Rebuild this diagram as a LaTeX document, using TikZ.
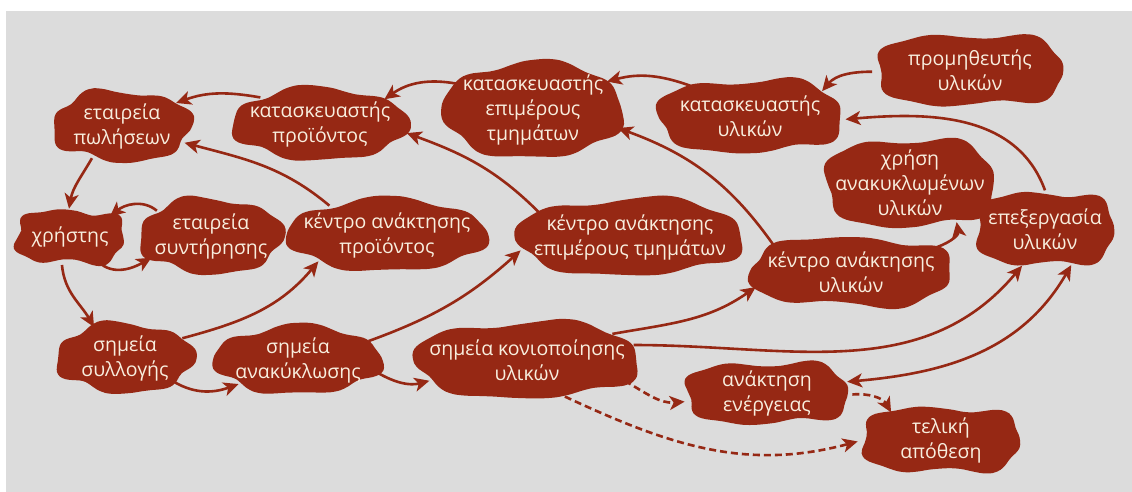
\documentclass[tikz,border=0pt]{standalone}
\usepackage{fontspec}
\setmainfont{Open Sans}
\usetikzlibrary{shapes.geometric,arrows.meta,backgrounds}
\definecolor{blobred}{RGB}{150,40,20}
\definecolor{panel}{RGB}{220,220,220}
\definecolor{cream}{RGB}{248,238,222}

\tikzset{
  >={Stealth[length=15pt,width=14pt,inset=4pt]},
  blob/.style={ellipse, inner xsep=-75pt, inner ysep=-50pt, text=cream,
    align=center, font=\fontsize{19.5}{25}\selectfont},
  conn/.style={draw=blobred, line width=2.6pt, ->},
  twoway/.style={draw=blobred, line width=2.6pt, <->},
  dashconn/.style={conn, dash pattern=on 7pt off 4pt},
}

% name, x, y, half width, half height, wobble phase, text
\newcommand\place[7]{%
  \node[blob, minimum width={2.08*#4}, minimum height={2.08*#5}] (#1) at (#2,#3) {#7};
  \begin{pgfonlayer}{background}
    \fill[blobred, shift={(#1.center)}]
      plot[smooth cycle, samples=48, domain=3:355.5, variable=\t]
      ({#4*sign(cos(\t))*abs(cos(\t))^0.8 + (3*sin(4*\t+#6)+2.5*sin(7*\t+1.7*#6))*cos(\t)},
       {#5*sign(sin(\t))*abs(sin(\t))^0.8 + (3*sin(4*\t+#6)+2.5*sin(7*\t+1.7*#6))*sin(\t)});
  \end{pgfonlayer}
}

\begin{document}
\begin{tikzpicture}[x=1pt,y=1pt]
  \useasboundingbox (0,0) rectangle (1132,492);
  \begin{pgfonlayer}{background}
    \fill[white] (0,0) rectangle (1132,492);
    \fill[panel] (6,0) rectangle (1132,481);
  \end{pgfonlayer}

  \place{sales}{122}{366}{68}{34}{20}{εταιρεία\\πωλήσεων}
  \place{prodmaker}{320}{368}{86}{34}{70}{κατασκευαστής\\προϊόντος}
  \place{partmaker}{533}{382}{88}{46}{130}{κατασκευαστής\\επιμέρους\\τμημάτων}
  \place{matmaker}{750}{376}{92}{36}{200}{κατασκευαστής\\υλικών}
  \place{supplier}{970}{422}{94}{36}{250}{προμηθευτής\\υλικών}
  \place{user}{70}{255}{55}{27}{310}{χρήστης}
  \place{maint}{211}{256}{70}{36}{40}{εταιρεία\\συντήρησης}
  \place{prodrec}{387}{257}{98}{34}{100}{κέντρο ανάκτησης\\προϊόντος}
  \place{partrec}{630}{255}{112}{37}{160}{κέντρο ανάκτησης\\επιμέρους τμημάτων}
  \place{recyc}{910}{309}{85}{44}{220}{χρήση\\ανακυκλωμένων\\υλικών}
  \place{proc}{1045}{263}{70}{37}{280}{επεξεργασία\\υλικών}
  \place{matrec}{851}{220}{101}{34}{340}{κέντρο ανάκτησης\\υλικών}
  \place{collect}{125}{134}{67}{33}{50}{σημεία\\συλλογής}
  \place{recycle}{298}{132}{82}{32}{110}{σημεία\\ανακύκλωσης}
  \place{powder}{527}{132}{111}{37}{170}{σημεία κονιοποίησης\\υλικών}
  \place{energy}{767}{99}{82}{31}{230}{ανάκτηση\\ενέργειας}
  \place{landfill}{941}{52}{80}{33}{290}{τελική\\απόθεση}

  % product flow
  \draw[conn] (prodmaker.156) to[out=170,in=20] (sales.23);
  \draw[conn] (prodrec.153) to[out=140,in=-15] (sales.-15);
  \draw[conn] (sales.227) to[out=240,in=80] (user.92);
  \draw[conn] (maint.155) to[out=140,in=40] (user.27);
  \draw[conn] (user.-41) to[out=-45,in=210] (maint.200);
  \draw[conn] (user.254) to[out=-85,in=120] (collect.135);
  \draw[conn] (collect.19) to[out=15,in=230] (prodrec.201);
  \draw[conn] (collect.-26) to[out=-30,in=200] (recycle.202);
  \draw[conn] (recycle.15) to[out=20,in=222] (partrec.187);
  \draw[conn] (recycle.-9) to[out=-30,in=195] (powder.192);
  \draw[conn] (partrec.165) to[out=135,in=-20] (prodmaker.-6);
  \draw[conn] (matrec.162) to[out=125,in=-20] (partmaker.-12);
  \draw[conn] (matmaker.153) to[out=160,in=15] (partmaker.21);
  \draw[conn] (partmaker.161) to[out=170,in=35] (prodmaker.21);
  \draw[conn] (supplier.181) to[out=180,in=50] (matmaker.19);
  \draw[conn] (proc.90) to[out=110,in=5] (matmaker.-2);
  \draw[conn] (matrec.16) to[out=15,in=-80] (recyc.-40);
  \draw[conn] (powder.17) to[out=10,in=215] (matrec.189);
  \draw[conn] (powder.8) to[out=0,in=230] (proc.238);
  \draw[twoway] (energy.8) to[out=5,in=240] (proc.306);
  % residual flow
  \draw[dashconn] (powder.-12) to[out=-30,in=185] (energy.186);
  \draw[dashconn] (powder.-44) to[out=-25,in=195] (landfill.181);
  \draw[dashconn] (energy.-1) to[out=5,in=120] (landfill.151);
\end{tikzpicture}
\end{document}
